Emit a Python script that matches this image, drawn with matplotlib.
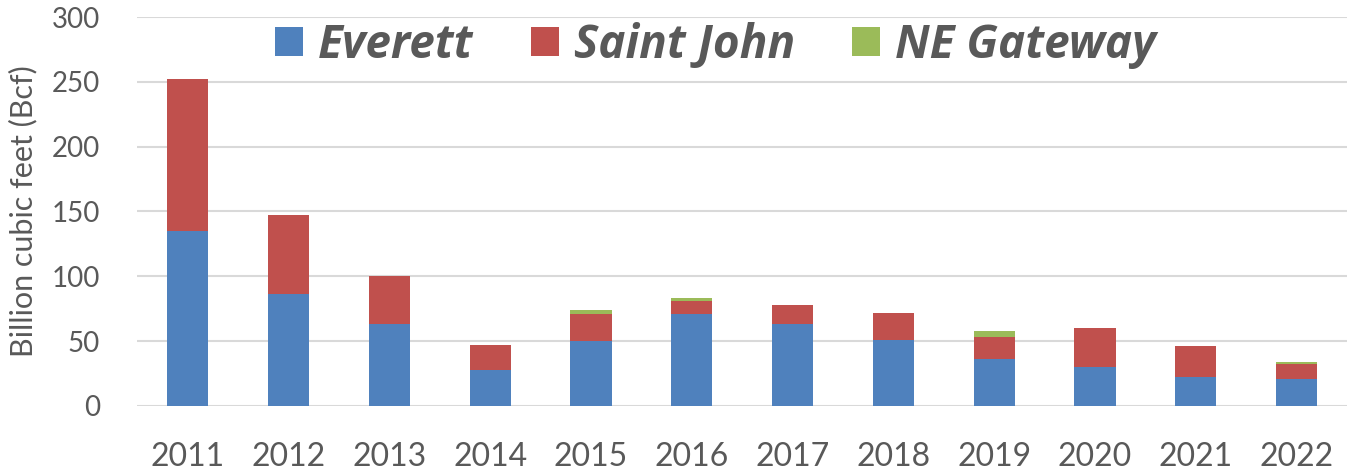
import matplotlib
matplotlib.use("Agg")
import matplotlib.pyplot as plt
import numpy as np

years = ["2011", "2012", "2013", "2014", "2015", "2016", "2017", "2018", "2019", "2020", "2021", "2022"]
everett = [135, 86, 63, 28, 50, 71, 63, 51, 36, 30, 22, 21]
saint_john = [117, 61, 37, 19, 21, 10, 15, 21, 17, 30, 24, 11]
ne_gateway = [0, 0, 0, 0, 3, 2, 0, 0, 5, 0, 0, 1.5]
series_names = ["Everett", "Saint John", "NE Gateway"]
yticks = [0, 50, 100, 150, 200, 250, 300]

colors = ["#4F81BD", "#C0504D", "#9BBB59"]
txt = "#595959"

plt.rcParams['font.family'] = ['Lato', 'DejaVu Sans']

fig = plt.figure(figsize=(13.47, 4.73), dpi=100)
ax = fig.add_axes([0.102, 0.142, 0.898, 0.822])

x = np.arange(len(years))
w = 0.41
e = np.array(everett, float)
s = np.array(saint_john, float)
n = np.array(ne_gateway, float)
ax.bar(x, e, w, color=colors[0], label=series_names[0], zorder=3)
ax.bar(x, s, w, bottom=e, color=colors[1], label=series_names[1], zorder=3)
ax.bar(x, n, w, bottom=e + s, color=colors[2], label=series_names[2], zorder=3)

ax.set_xlim(-0.5, 11.5)
ax.set_ylim(0, 300)
ax.set_yticks(yticks)
ax.set_xticks(x)
ax.set_xticklabels(years)
ax.yaxis.grid(True, color="#D9D9D9", linewidth=1.5, zorder=0)
ax.set_axisbelow(True)
for sp in ax.spines.values():
    sp.set_visible(False)
ax.tick_params(axis='both', length=0, colors=txt)
ax.tick_params(axis='x', labelsize=23, pad=26)
ax.tick_params(axis='y', labelsize=20, pad=27)
ax.set_ylabel("Billion cubic feet (Bcf)", fontsize=22, color=txt)
ax.yaxis.set_label_coords(-0.083, 0.5)

leg = ax.legend(loc='center', bbox_to_anchor=(0.478, 0.927), ncol=3, frameon=False,
                handlelength=0.61, handleheight=0.61, handletextpad=0.33,
                columnspacing=1.25, borderpad=0.1,
                prop={'family': ['Open Sans', 'DejaVu Sans'], 'weight': 'bold', 'style': 'italic', 'size': 33})
for t in leg.get_texts():
    t.set_color(txt)

fig.savefig("out.png", dpi=100)
